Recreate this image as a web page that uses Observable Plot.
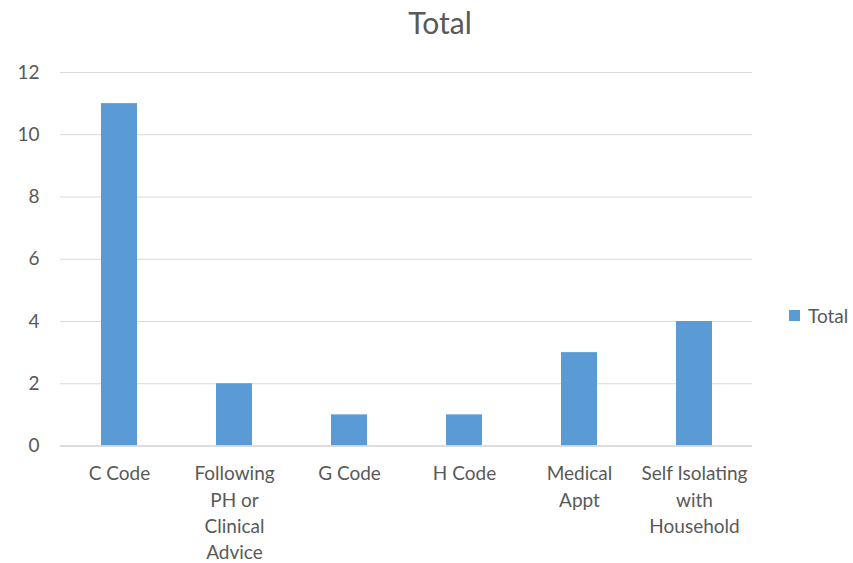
<!DOCTYPE html>
<html>
<head>
<meta charset="utf-8">
<script src="https://cdn.jsdelivr.net/npm/d3@7"></script>
<script src="https://cdn.jsdelivr.net/npm/@observablehq/plot@0.6"></script>
<style>
  body { margin: 0; background: #fff; }
  #wrap { position: relative; width: 853px; height: 563px; font-family: Lato, sans-serif; color: #595959; }
  #title { position: absolute; left: 27px; top: 0; width: 826px; height: 45px; text-align: center; font-size: 30px; line-height: 45px; }
  #chart { position: absolute; left: 0; top: 45px; }
  #chart svg { overflow: visible; }
  #legend { position: absolute; left: 789px; top: 304px; font-size: 19px; display: flex; align-items: center; }
  #legend .sw { width: 11px; height: 11px; background: #5B9BD5; margin-right: 8px; }
</style>
</head>
<body>
<div id="wrap">
  <div id="title">Total</div>
  <div id="chart"></div>
  <div id="legend"><span class="sw"></span><span>Total</span></div>
</div>
<script>
const categories = ["C Code", "Following\nPH or\nClinical\nAdvice", "G Code", "H Code", "Medical\nAppt", "Self Isolating\nwith\nHousehold"];
const values = [11, 2, 1, 1, 3, 4];
const yTicks = [0, 2, 4, 6, 8, 10, 12];

const data = categories.map((c, i) => ({category: c, value: values[i]}));

const chart = Plot.plot({
  width: 853,
  height: 518,
  marginLeft: 60,
  marginRight: 101,
  marginTop: 27,
  marginBottom: 117.5,
  style: {fontFamily: "Lato, sans-serif", fontSize: "19px", color: "#595959", background: "transparent"},
  x: {domain: categories, paddingInner: 0.69, paddingOuter: 0.345},
  y: {domain: [0, 12]},
  marks: [
    Plot.gridY(yTicks, {stroke: "#d9d9d9", strokeOpacity: 1, strokeWidth: 1}),
    Plot.barY(data, {x: "category", y: "value", fill: "#5B9BD5"}),
    Plot.ruleY([0], {stroke: "#d9d9d9", strokeWidth: 1.5}),
    Plot.axisY(yTicks, {tickSize: 0, tickPadding: 21, label: null, fill: "#595959", fontSize: 19}),
    Plot.axisX({tickSize: 0, tickPadding: 16, label: null, fill: "#595959", fontSize: 19, lineHeight: 1.37, textAnchor: "middle"})
  ]
});
document.getElementById("chart").appendChild(chart);
</script>
</body>
</html>
